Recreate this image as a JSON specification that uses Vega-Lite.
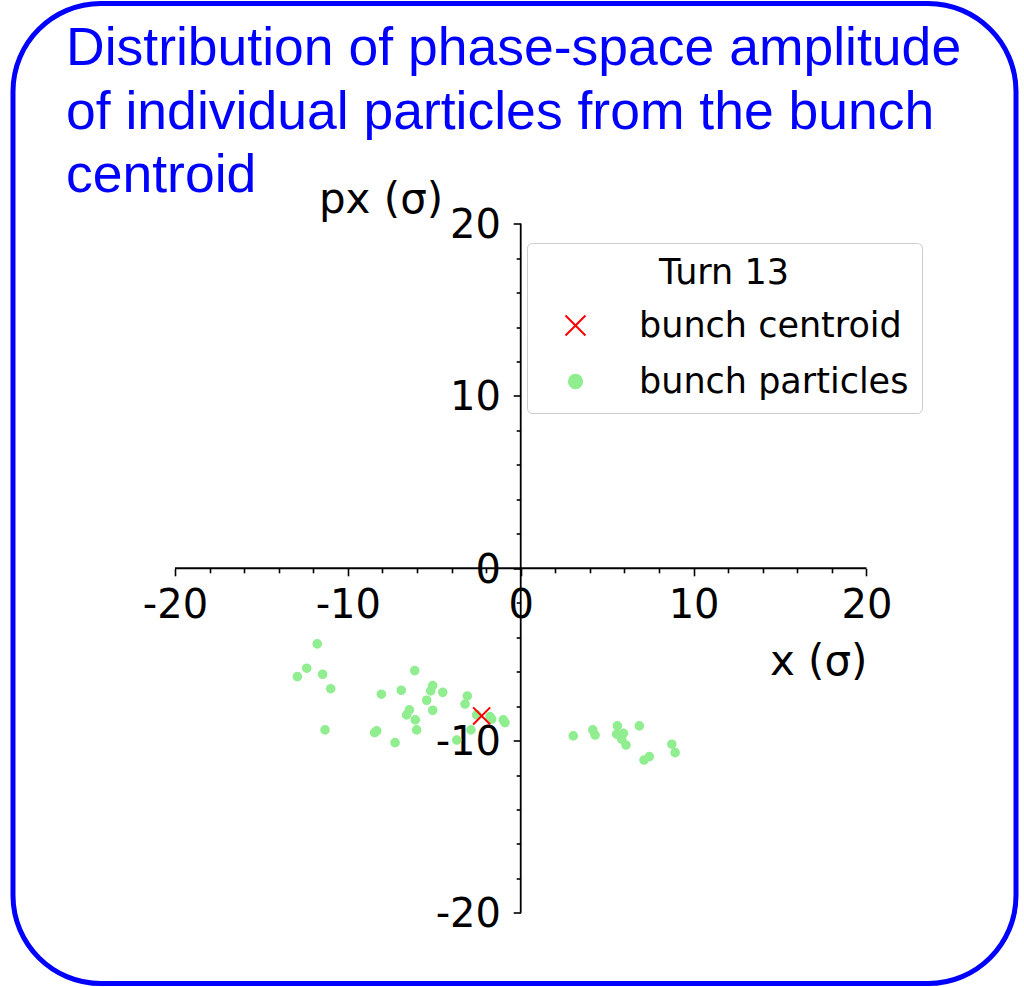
{
  "$schema": "https://vega.github.io/schema/vega-lite/v6.json",
  "autosize": {"type": "none"},
  "padding": {"left": 13, "top": 3.5, "right": 8, "bottom": 3},
  "width": 1003,
  "height": 980,
  "background": "white",
  "title": {
    "text": ["Distribution of phase-space amplitude", "of individual particles from the bunch", "centroid"],
    "anchor": "start",
    "frame": "group",
    "orient": "top",
    "offset": 0,
    "dx": 53,
    "dy": 200,
    "font": "Liberation Sans",
    "fontSize": 53.5,
    "fontWeight": "normal",
    "color": "blue",
    "lineHeight": 63.5
  },
  "config": {
    "view": {"stroke": "blue", "strokeWidth": 5, "cornerRadius": 88, "fill": "white"},
    "legend": {
      "titleFont": "DejaVu Sans", "titleFontSize": 35, "titleFontWeight": "normal", "titleColor": "black",
      "titleAnchor": "middle", "titlePadding": 17,
      "labelFont": "DejaVu Sans", "labelFontSize": 35, "labelColor": "black", "labelLimit": 0, "labelOffset": 46,
      "symbolSize": 177, "symbolOffset": 18, "symbolStrokeWidth": 2,
      "padding": 13, "rowPadding": 20, "strokeColor": "#cccccc", "fillColor": "rgba(255,255,255,0.8)", "cornerRadius": 5
    }
  },
  "datasets": {
    "spines": [
      {"x": -20, "x2": 20, "px": 0, "px2": 0},
      {"x": 0, "x2": 0, "px": -20, "px2": 20}
    ],
    "points": [
      {"x": -11.77, "px": -4.39, "series": "bunch particles"},
      {"x": -12.38, "px": -5.80, "series": "bunch particles"},
      {"x": -12.92, "px": -6.29, "series": "bunch particles"},
      {"x": -11.46, "px": -6.15, "series": "bunch particles"},
      {"x": -10.99, "px": -6.99, "series": "bunch particles"},
      {"x": -11.32, "px": -9.38, "series": "bunch particles"},
      {"x": -8.06, "px": -7.31, "series": "bunch particles"},
      {"x": -6.91, "px": -7.08, "series": "bunch particles"},
      {"x": -6.13, "px": -5.94, "series": "bunch particles"},
      {"x": -5.09, "px": -6.81, "series": "bunch particles"},
      {"x": -5.21, "px": -7.12, "series": "bunch particles"},
      {"x": -4.51, "px": -7.20, "series": "bunch particles"},
      {"x": -5.44, "px": -7.66, "series": "bunch particles"},
      {"x": -6.44, "px": -8.22, "series": "bunch particles"},
      {"x": -6.60, "px": -8.51, "series": "bunch particles"},
      {"x": -5.09, "px": -8.24, "series": "bunch particles"},
      {"x": -6.10, "px": -8.80, "series": "bunch particles"},
      {"x": -6.02, "px": -9.38, "series": "bunch particles"},
      {"x": -8.33, "px": -9.44, "series": "bunch particles"},
      {"x": -8.45, "px": -9.54, "series": "bunch particles"},
      {"x": -7.27, "px": -10.12, "series": "bunch particles"},
      {"x": -3.09, "px": -7.41, "series": "bunch particles"},
      {"x": -3.22, "px": -7.88, "series": "bunch particles"},
      {"x": -2.55, "px": -8.51, "series": "bunch particles"},
      {"x": -1.78, "px": -8.61, "series": "bunch particles"},
      {"x": -1.68, "px": -8.75, "series": "bunch particles"},
      {"x": -1.01, "px": -8.80, "series": "bunch particles"},
      {"x": -0.91, "px": -8.96, "series": "bunch particles"},
      {"x": -2.88, "px": -9.38, "series": "bunch particles"},
      {"x": -3.70, "px": -9.97, "series": "bunch particles"},
      {"x": 3.04, "px": -9.73, "series": "bunch particles"},
      {"x": 4.17, "px": -9.38, "series": "bunch particles"},
      {"x": 4.30, "px": -9.68, "series": "bunch particles"},
      {"x": 5.59, "px": -9.15, "series": "bunch particles"},
      {"x": 5.55, "px": -9.63, "series": "bunch particles"},
      {"x": 5.94, "px": -9.58, "series": "bunch particles"},
      {"x": 5.84, "px": -9.92, "series": "bunch particles"},
      {"x": 6.09, "px": -10.26, "series": "bunch particles"},
      {"x": 6.86, "px": -9.15, "series": "bunch particles"},
      {"x": 7.13, "px": -11.13, "series": "bunch particles"},
      {"x": 7.44, "px": -10.93, "series": "bunch particles"},
      {"x": 8.74, "px": -10.21, "series": "bunch particles"},
      {"x": 8.93, "px": -10.70, "series": "bunch particles"},
      {"x": -2.26, "px": -8.57, "series": "bunch centroid"}
    ]
  },
  "encoding": {
    "x": {
      "field": "x", "type": "quantitative",
      "scale": {"domain": [-29.37, 28.65], "nice": false, "zero": false},
      "axis": {
        "orient": "bottom", "offset": -415.2, "domain": false, "grid": false,
        "values": [-20, -18, -16, -14, -12, -10, -8, -6, -4, -2, 0, 2, 4, 6, 8, 10, 12, 14, 16, 18, 20],
        "tickColor": "black", "tickWidth": 1.6,
        "tickSize": {"condition": {"test": "datum.value % 10 === 0", "value": 7.5}, "value": 4.5},
        "labelExpr": "datum.value % 10 === 0 ? '' + datum.value : ''",
        "labelFont": "DejaVu Sans", "labelFontSize": 40, "labelColor": "black", "labelPadding": 10,
        "labelOverlap": false, "labelFlush": false, "labelBound": false,
        "title": "x (σ)", "titleFont": "DejaVu Sans", "titleFontSize": 42, "titleFontWeight": "normal",
        "titleColor": "black", "titleAngle": 0, "titleAlign": "right", "titleBaseline": "middle",
        "titleX": 854, "titleY": 92.7
      }
    },
    "y": {
      "field": "px", "type": "quantitative",
      "scale": {"domain": [-24.1, 32.78], "nice": false, "zero": false},
      "axis": {
        "orient": "left", "offset": -507.7, "domain": false, "grid": false,
        "values": [-20, -18, -16, -14, -12, -10, -8, -6, -4, -2, 0, 2, 4, 6, 8, 10, 12, 14, 16, 18, 20],
        "tickColor": "black", "tickWidth": 1.6,
        "tickSize": {"condition": {"test": "datum.value % 10 === 0", "value": 7.5}, "value": 4.5},
        "labelExpr": "datum.value % 10 === 0 ? '' + datum.value : ''",
        "labelFont": "DejaVu Sans", "labelFontSize": 40, "labelColor": "black", "labelPadding": 12.7,
        "labelAlign": "right", "labelBaseline": "middle", "labelOffset": 2,
        "labelOverlap": false, "labelFlush": false, "labelBound": false,
        "title": "px (σ)", "titleFont": "DejaVu Sans", "titleFontSize": 42, "titleFontWeight": "normal",
        "titleColor": "black", "titleAngle": 0, "titleAlign": "right", "titleBaseline": "middle",
        "titleX": -78, "titleY": 195.5
      }
    }
  },
  "layer": [
    {
      "data": {"name": "spines"},
      "mark": {"type": "rule", "color": "black", "strokeWidth": 1.8},
      "encoding": {
        "x2": {"field": "x2"},
        "y2": {"field": "px2"}
      }
    },
    {
      "data": {"name": "points"},
      "encoding": {
        "fill": {
          "field": "series", "type": "nominal",
          "scale": {"domain": ["bunch centroid", "bunch particles"], "range": ["red", "#90ee90"]},
          "legend": {"title": "Turn 13", "orient": "none", "legendX": 514, "legendY": 239.5}
        },
        "stroke": {
          "field": "series", "type": "nominal",
          "scale": {"domain": ["bunch centroid", "bunch particles"], "range": ["red", "#90ee90"]},
          "legend": {"title": "Turn 13", "orient": "none", "legendX": 514, "legendY": 239.5}
        },
        "shape": {
          "field": "series", "type": "nominal",
          "scale": {"domain": ["bunch centroid", "bunch particles"], "range": ["M-1.5,-1.5L1.5,1.5M-1.5,1.5L1.5,-1.5", "circle"]},
          "legend": {"title": "Turn 13", "orient": "none", "legendX": 514, "legendY": 239.5}
        }
      },
      "layer": [
        {
          "transform": [{"filter": "datum.series === 'bunch particles'"}],
          "mark": {"type": "point", "opacity": 1, "strokeWidth": 2, "size": 58}
        },
        {
          "transform": [{"filter": "datum.series === 'bunch centroid'"}],
          "mark": {"type": "point", "opacity": 1, "strokeWidth": 2, "size": 130}
        }
      ]
    }
  ]
}
